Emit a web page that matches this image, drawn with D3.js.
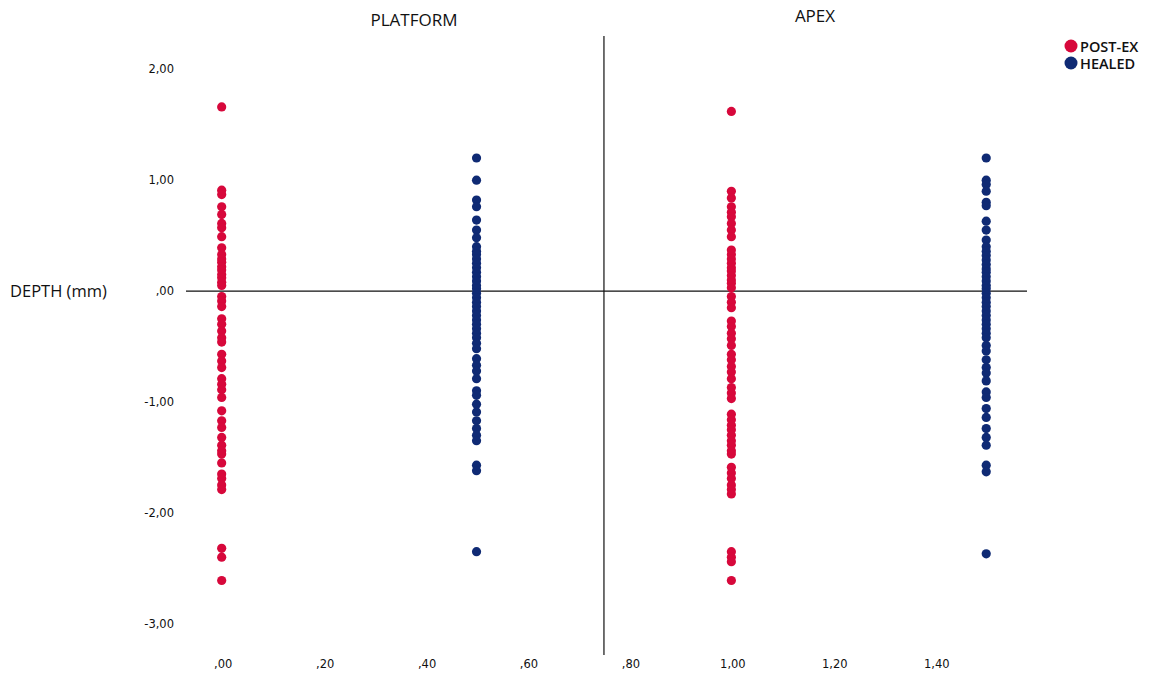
<!DOCTYPE html>
<html>
<head>
<meta charset="utf-8">
<script src="https://cdn.jsdelivr.net/npm/d3@7"></script>
<style>
  html, body { margin: 0; padding: 0; background: #fff; }
  svg { display: block; }
</style>
</head>
<body>
<svg id="chart" width="1150" height="680"></svg>
<script>
// Depth measurements (mm), one column per site and condition
const sites = ["PLATFORM", "APEX"];
const groups = ["POST-EX", "HEALED"];
const groupColors = ["#d7083b", "#0f2a74"];

const postExPlatform = [1.66, 0.91, 0.87, 0.76, 0.69, 0.61, 0.57, 0.49, 0.39, 0.33, 0.29, 0.26, 0.22, 0.19, 0.15, 0.12, 0.08, 0.05, -0.05, -0.09, -0.14, -0.25, -0.30, -0.36, -0.42, -0.46, -0.57, -0.63, -0.69, -0.79, -0.84, -0.89, -0.96, -1.08, -1.17, -1.23, -1.32, -1.39, -1.44, -1.47, -1.55, -1.65, -1.69, -1.75, -1.79, -2.32, -2.40, -2.61];
const healedPlatform = [1.20, 1.00, 0.82, 0.76, 0.64, 0.55, 0.48, 0.40, 0.36, 0.33, 0.29, 0.25, 0.21, 0.17, 0.13, 0.09, 0.05, 0.02, -0.02, -0.06, -0.10, -0.14, -0.18, -0.22, -0.26, -0.30, -0.34, -0.38, -0.42, -0.47, -0.52, -0.61, -0.67, -0.72, -0.79, -0.90, -0.94, -1.02, -1.09, -1.17, -1.24, -1.30, -1.35, -1.57, -1.62, -2.35];
const postExApex = [1.62, 0.90, 0.84, 0.76, 0.71, 0.67, 0.61, 0.55, 0.49, 0.37, 0.33, 0.29, 0.25, 0.21, 0.18, 0.14, 0.10, 0.07, 0.03, -0.05, -0.10, -0.15, -0.27, -0.32, -0.38, -0.43, -0.49, -0.57, -0.62, -0.68, -0.73, -0.79, -0.87, -0.92, -0.97, -1.11, -1.16, -1.21, -1.25, -1.30, -1.35, -1.39, -1.44, -1.47, -1.59, -1.64, -1.69, -1.75, -1.79, -1.83, -2.35, -2.40, -2.44, -2.61];
const healedApex = [1.20, 1.00, 0.96, 0.90, 0.80, 0.77, 0.63, 0.55, 0.46, 0.40, 0.36, 0.32, 0.28, 0.24, 0.20, 0.17, 0.13, 0.09, 0.05, 0.02, -0.02, -0.06, -0.10, -0.14, -0.18, -0.22, -0.26, -0.30, -0.34, -0.38, -0.42, -0.49, -0.54, -0.62, -0.69, -0.74, -0.81, -0.91, -0.96, -1.06, -1.14, -1.24, -1.32, -1.39, -1.57, -1.63, -2.37];

// x position of each column on the numeric x axis
const columnX = [0, 0.5, 1.0, 1.5];
const columnGroup = [0, 1, 0, 1];
const columnValues = [postExPlatform, healedPlatform, postExApex, healedApex];
const dividerX = 0.75;

const xTicks = [0, 0.2, 0.4, 0.6, 0.8, 1.0, 1.2, 1.4];
const yTicks = [2, 1, 0, -1, -2, -3];

const svg = d3.select("#chart");

const x = d3.scaleLinear().domain([-0.07, 1.58]).range([186, 1027]);
const y = d3.scaleLinear().domain([-3.3, 2.3]).range([657, 36]);

// SPSS-style number format: comma decimal, no leading zero
const fmt = v => {
  const s = Math.abs(v).toFixed(2).replace(".", ",");
  const t = s.startsWith("0") ? s.slice(1) : s;
  return (v < 0 ? "-" : "") + t;
};

// y axis tick labels
const yAxis = d3.axisLeft(y).tickValues(yTicks).tickFormat(fmt).tickSize(0).tickPadding(0);
svg.append("g")
  .attr("transform", "translate(174,0)")
  .call(yAxis)
  .call(g => g.select(".domain").remove())
  .selectAll("text")
  .attr("font-family", "DejaVu Sans, sans-serif")
  .attr("font-size", 11.5)
  .attr("fill", "#111");

// x axis tick labels
const xAxis = d3.axisBottom(x).tickValues(xTicks).tickFormat(fmt).tickSize(0).tickPadding(0);
svg.append("g")
  .attr("transform", "translate(1,660)")
  .call(xAxis)
  .call(g => g.select(".domain").remove())
  .selectAll("text")
  .attr("font-family", "DejaVu Sans, sans-serif")
  .attr("font-size", 11.5)
  .attr("fill", "#111");

// zero reference line and the site divider
svg.append("line")
  .attr("x1", x.range()[0]).attr("x2", x.range()[1])
  .attr("y1", y(0)).attr("y2", y(0))
  .attr("stroke", "#111").attr("stroke-width", 1.2);
svg.append("line")
  .attr("x1", x(dividerX)).attr("x2", x(dividerX))
  .attr("y1", y.range()[1]).attr("y2", y.range()[0] - 2)
  .attr("stroke", "#111").attr("stroke-width", 1.2);

// points
const points = [];
columnValues.forEach((vals, i) => vals.forEach(v => points.push({ x: columnX[i], v, g: columnGroup[i] })));
svg.append("g")
  .selectAll("circle")
  .data(points)
  .join("circle")
  .attr("cx", d => x(d.x))
  .attr("cy", d => y(d.v))
  .attr("r", 4.6)
  .attr("fill", d => groupColors[d.g]);

// site headings
const headX = [414, 815];
svg.append("g").selectAll("text")
  .data(sites)
  .join("text")
  .attr("x", (d, i) => headX[i])
  .attr("y", (d, i) => i === 0 ? 26 : 22)
  .attr("text-anchor", "middle")
  .attr("font-family", "Open Sans, sans-serif")
  .attr("font-size", 17)
  .attr("fill", "#111")
  .text(d => d);

// y axis title
svg.append("text")
  .attr("x", 10).attr("y", 297)
  .attr("font-family", "Open Sans, sans-serif")
  .attr("font-size", 16.5)
  .attr("font-weight", 500)
  .attr("fill", "#111")
  .text("DEPTH (mm)");

// legend
const legend = svg.append("g").attr("transform", "translate(1071,46)");
const items = legend.selectAll("g").data(groups).join("g")
  .attr("transform", (d, i) => `translate(0,${i * 17})`);
items.append("circle").attr("r", 6.5).attr("fill", (d, i) => groupColors[i]);
items.append("text")
  .attr("x", 9).attr("y", 5.5)
  .attr("font-family", "Open Sans, sans-serif")
  .attr("font-size", 14.5)
  .attr("font-weight", 600)
  .attr("fill", "#111")
  .text(d => d);
</script>
</body>
</html>
